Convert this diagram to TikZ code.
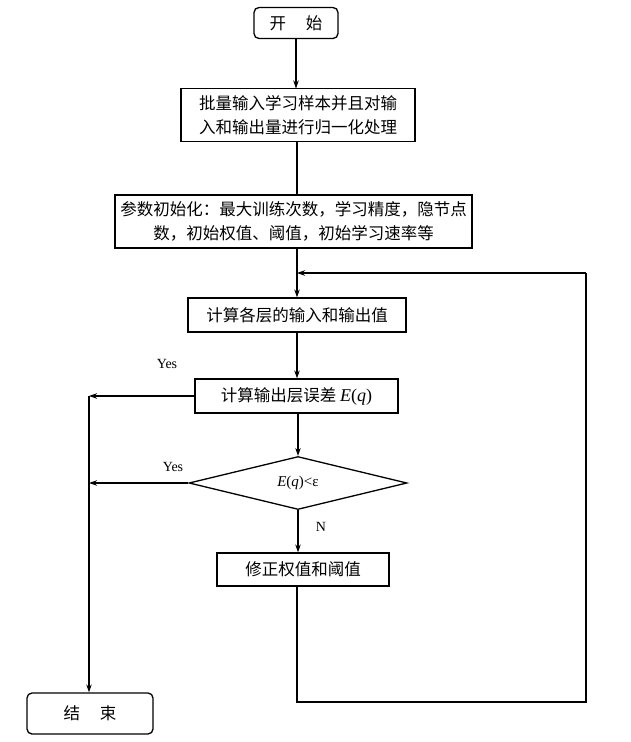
\documentclass[tikz,border=0pt]{standalone}
\usepackage{fontspec}
\setmainfont{Liberation Serif}
\newfontfamily\cjk{Noto Sans CJK SC}
\usetikzlibrary{arrows.meta,shapes.geometric}
\begin{document}
\begin{tikzpicture}[x=1pt,y=-1pt,
  line width=1.1pt,
  arr/.style={-{Stealth[length=8pt,width=5.5pt]}},
  proc/.style={draw,line width=1.3pt,rectangle,inner sep=0pt,align=center,font=\cjk\fontsize{16.5}{24}\selectfont},
  term/.style={draw,line width=1.3pt,rounded corners=5pt,inner sep=0pt,font=\cjk\fontsize{16.5}{20}\selectfont},
  lbl/.style={font=\fontsize{14}{16}\selectfont,inner sep=0pt}]
\useasboundingbox (0,0) rectangle (630,742);
\fill[white] (0,0) rectangle (630,742);
\node[term,minimum width=84pt,minimum height=31pt] (start) at (296,23) {开\hspace{1.2em}始};
\node[proc,minimum width=234pt,minimum height=53pt] (b1) at (298,115) {批量输入学习样本并且对输\\入和输出量进行归一化处理};
\node[proc,minimum width=357pt,minimum height=53pt] (b2) at (293.5,221.5) {参数初始化：最大训练次数，学习精度，隐节点\\数，初始权值、阈值，初始学习速率等};
\node[proc,minimum width=218pt,minimum height=34pt] (b3) at (297,315) {计算各层的输入和输出值};
\node[proc,minimum width=203pt,minimum height=34pt] (b4) at (296.5,396) {计算输出层误差 {\rmfamily\fontsize{18}{20}\selectfont\itshape E\upshape(\itshape q\upshape)}};
\node[draw,diamond,aspect=4.1,line width=1.3pt,minimum width=218pt,minimum height=53pt,inner sep=0pt,font=\fontsize{15}{17}\selectfont] (d) at (298,483) {\itshape E\upshape(\itshape q\upshape)<ε};
\node[proc,minimum width=172pt,minimum height=33pt] (b5) at (303,569.5) {修正权值和阈值};
\node[term,minimum width=126pt,minimum height=41pt] (end) at (90,713.5) {结\hspace{1.2em}束};
\coordinate (lx) at (89,396);
\coordinate (ly) at (89,483);
\coordinate (lb) at (297,702);
\coordinate (rb) at (586,702);
\coordinate (rt) at (586,273);
\coordinate (mt) at (297,273);
\draw[arr] (start.south -| 296,0) -- (296,88.5);
\draw (b1.south -| 297,0) -- (297,195);
\draw[arr] (b2.south -| 297,0) -- (b3.north -| 297,0);
\draw[arr] (b3.south -| 297,0) -- (b4.north -| 297,0);
\draw[arr] (b4.south -| 298,0) -- (d.north);
\draw[arr] (d.south) -- (b5.north -| 298,0);
\draw[arr] (b4.west) -- (lx);
\draw[arr] (d.west) -- (ly);
\draw[arr] (lx) -- (end.north -| 89,0);
\draw (b5.south -| 297,0) -- (lb) -- (rb) -- (rt);
\draw[arr] (rt) -- (mt);
\node[lbl] at (167,364) {Yes};
\node[lbl] at (173,467) {Yes};
\node[lbl] at (321,527) {N};
\end{tikzpicture}
\end{document}
